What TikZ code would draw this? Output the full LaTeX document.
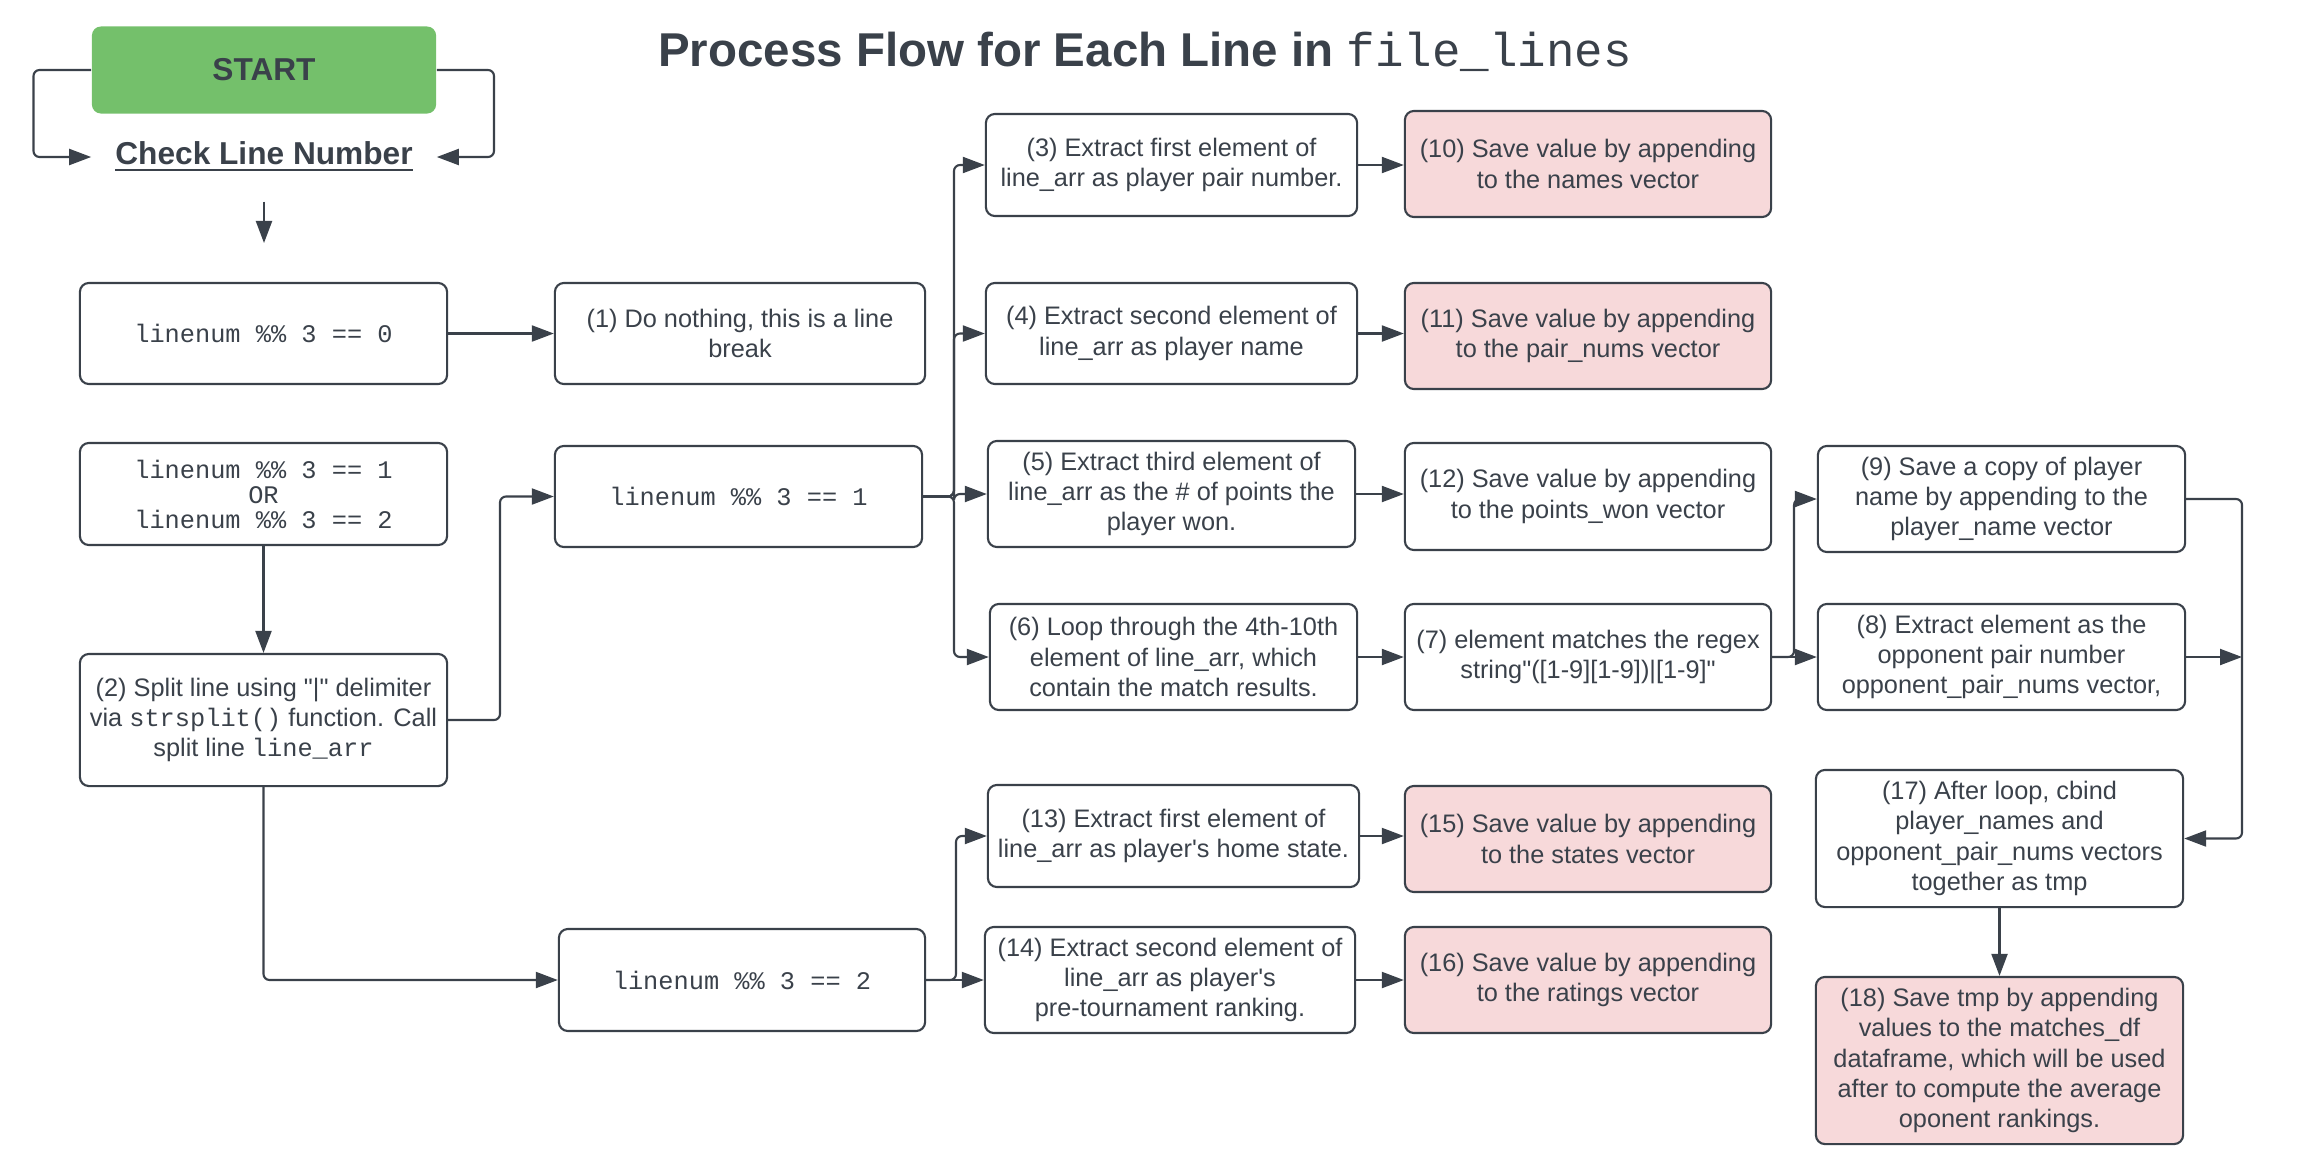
\documentclass[tikz,border=0pt]{standalone}
\usepackage{fontspec}
\setmainfont{Liberation Sans}[Ligatures=TeXOff]
\setmonofont{Liberation Mono}
\usetikzlibrary{arrows.meta}
\definecolor{ink}{HTML}{3A414A}
\definecolor{greenf}{HTML}{74C06B}
\definecolor{pinkf}{HTML}{F7D9DA}
\newcommand\bodyf{\fontsize{7.2}{8.6}\selectfont}
\tikzset{
  box/.style={draw=ink, line width=0.6pt, rounded corners=0.09cm, minimum width=3.67cm,
    minimum height=1.01cm, align=center, inner sep=0pt, text=ink, font=\bodyf},
  pinkbox/.style={box, fill=pinkf},
  arr/.style={-{Triangle[length=0.22cm,width=0.16cm]}, draw=ink, line width=0.6pt, rounded corners=0.06cm},
}
\begin{document}
\begin{tikzpicture}[x=0.01cm, y=-0.01cm]
\useasboundingbox (0,0) rectangle (2312,1172);
% title
\node[text=ink, font=\fontsize{13.5}{16}\selectfont\bfseries] (title) at (1145,52)
  {Process Flow for Each Line in {\mdseries\ttfamily file\_lines}};
% start
\node[fill=greenf, rounded corners=0.09cm, minimum width=3.44cm, minimum height=0.87cm,
  inner sep=0pt, text=ink, font=\fontsize{9}{11}\selectfont\bfseries] (start) at (264,70) {START};
\node[minimum width=3.44cm, minimum height=0.88cm, inner sep=0pt, text=ink,
  font=\fontsize{9}{11}\selectfont\bfseries] (check) at (264,157) {\underline{Check Line Number}};
\coordinate (chk) at (264,243);
% left column
\node[box, font=\fontsize{7.2}{7.2}\selectfont\ttfamily] (b0) at (263.5,333.5) {linenum \%\% 3 == 0};
\node[box, minimum height=1.02cm, font=\fontsize{7.2}{7.1}\selectfont\ttfamily] (b12) at (263.5,494)
  {linenum \%\% 3 == 1\\OR\\linenum \%\% 3 == 2};
\node[box, minimum height=1.32cm] (b2) at (263.5,720)
  {(2) Split line using "|" delimiter\\via \texttt{strsplit()} function. Call\\split line \texttt{line\_arr}};
% second column
\node[box, minimum width=3.70cm] (n1) at (740,333.5) {(1) Do nothing, this is a line\\break};
\node[box, font=\fontsize{7.2}{7.2}\selectfont\ttfamily] (L1) at (738.5,496.5) {linenum \%\% 3 == 1};
\node[box, minimum width=3.66cm, minimum height=1.02cm, font=\fontsize{7.2}{7.2}\selectfont\ttfamily] (L2) at (742,980) {linenum \%\% 3 == 2};
% third column
\node[box, minimum width=3.71cm, minimum height=1.02cm] (n3) at (1171.5,165)
  {(3) Extract first element of\\line\_arr as player pair number.};
\node[box, minimum width=3.71cm] (n4) at (1171.5,333.5)
  {(4) Extract second element of\\line\_arr as player name};
\node[box, minimum height=1.06cm] (n5) at (1171.5,494)
  {(5) Extract third element of\\line\_arr as the \# of points the\\player won.};
\node[box, minimum height=1.06cm] (n6) at (1173.5,657)
  {(6) Loop through the 4th-10th\\element of line\_arr, which\\contain the match results.};
\node[box, minimum width=3.71cm, minimum height=1.02cm] (n13) at (1173.5,836)
  {(13) Extract first element of\\line\_arr as player's home state.};
\node[box, minimum width=3.70cm, minimum height=1.06cm] (n14) at (1170,980)
  {(14) Extract second element of\\line\_arr as player's\\pre-tournament ranking.};
% fourth column
\node[pinkbox, minimum width=3.66cm, minimum height=1.06cm] (n10) at (1588,164)
  {(10) Save value by appending\\to the names vector};
\node[pinkbox, minimum width=3.66cm, minimum height=1.06cm] (n11) at (1588,336)
  {(11) Save value by appending\\to the pair\_nums vector};
\node[box, minimum width=3.66cm, minimum height=1.07cm] (n12) at (1588,496.5)
  {(12) Save value by appending\\to the points\_won vector};
\node[box, minimum width=3.66cm, minimum height=1.06cm] (n7) at (1588,657)
  {(7) element matches the regex\\string"([1-9][1-9])|[1-9]"};
\node[pinkbox, minimum width=3.66cm, minimum height=1.06cm] (n15) at (1588,839)
  {(15) Save value by appending\\to the states vector};
\node[pinkbox, minimum width=3.66cm, minimum height=1.06cm] (n16) at (1588,980)
  {(16) Save value by appending\\to the ratings vector};
% fifth column
\node[box, minimum height=1.06cm] (n9) at (2001.5,499)
  {(9) Save a copy of player\\name by appending to the\\player\_name vector};
\node[box, minimum height=1.06cm] (n8) at (2001.5,657)
  {(8) Extract element as the\\opponent pair number\\opponent\_pair\_nums vector,};
\node[box, minimum height=1.37cm] (n17) at (1999.5,838.5)
  {(17) After loop, cbind\\player\_names and\\opponent\_pair\_nums vectors\\together as tmp};
\node[pinkbox, minimum height=1.67cm] (n18) at (1999.5,1060.5)
  {(18) Save tmp by appending\\values to the matches\_df\\dataframe, which will be used\\after to compute the average\\oponent rankings.};
\coordinate (t8) at (2242,657);
% connectors
\draw[arr] (start.west) -- (33.5,70) |- (check.west);
\draw[arr] (start.east) -- (494,70) |- (check.east);
\draw[arr] (check.south) -- (chk);
\draw[arr] (b0.east) -- (n1.west);
\draw[arr] (b12.south) -- (b2.north);
\draw[arr] (b2.east) -- (500,720) |- (L1.west);
\draw[arr] (b2.south) |- (L2.west);
\draw[arr] (L1.east) -- (954,496.5) |- (n3.west);
\draw[arr] (L1.east) -- (954,496.5) |- (n4.west);
\draw[arr] (L1.east) -- (954,496.5) |- (n5.west);
\draw[arr] (L1.east) -- (954,496.5) |- (n6.west);
\draw[arr] (L2.east) -- (956,980) |- (n13.west);
\draw[arr] (L2.east) -- (n14.west);
\draw[arr] (n3.east) -- (n3.east -| n10.west);
\draw[arr] (n4.east) -- (n4.east -| n11.west);
\draw[arr] (n5.east) -- (n5.east -| n12.west);
\draw[arr] (n6.east) -- (n6.east -| n7.west);
\draw[arr] (n13.east) -- (n13.east -| n15.west);
\draw[arr] (n14.east) -- (n14.east -| n16.west);
\draw[arr] (n7.east) -- (1794,657) |- (n9.west);
\draw[arr] (n7.east) -- (n8.west);
\draw[arr] (n9.east) -- (2242,499) |- (n17.east);
\draw[arr] (n8.east) -- (t8);
\draw[arr] (n17.south) -- (n18.north);
\end{tikzpicture}
\end{document}
